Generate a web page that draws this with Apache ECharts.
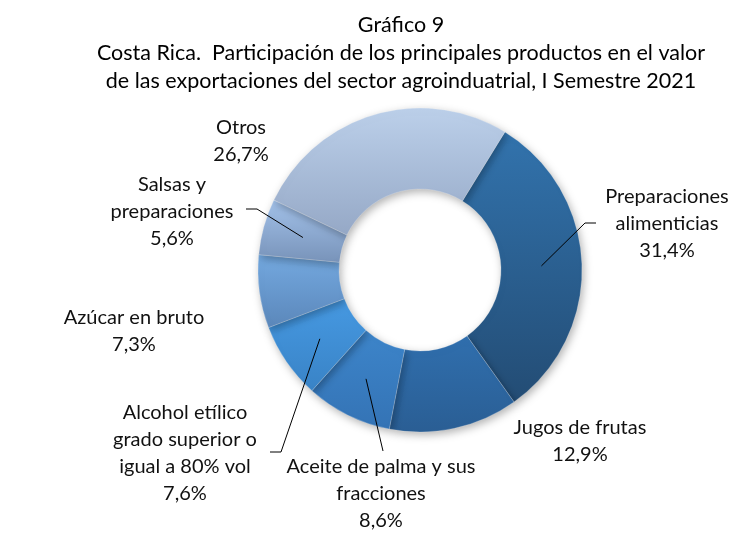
<!DOCTYPE html>
<html>
<head>
<meta charset="utf-8">
<script src="https://cdn.jsdelivr.net/npm/echarts@6/dist/echarts.min.js"></script>
<style>
  html, body { margin: 0; padding: 0; background: #fff; }
  #main { width: 737px; height: 533px; }
</style>
</head>
<body>
<div id="main"></div>
<script>
// categories (line breaks as shown in the chart)
var categories = [
    'Preparaciones\nalimenticias',
    'Jugos de frutas',
    'Aceite de palma y sus\nfracciones',
    'Alcohol etílico\ngrado superior o\nigual a 80% vol',
    'Azúcar en bruto',
    'Salsas y\npreparaciones',
    'Otros'
];
// participation, %
var shares = [31.4, 12.9, 8.6, 7.6, 7.3, 5.6, 26.7];

// slice colours: top -> bottom of each slice
var topColors = ['#3273ad', '#306fae', '#3d85ca', '#4699e2', '#74a9e0', '#a3c2ea', '#bcd0ea'];
var bottomColors = ['#234c74', '#2a5e94', '#3473b5', '#3983c6', '#5b87ba', '#7893b9', '#95a8c6'];

// label placement (block centre) and line elbow, hand placed like the original
var labelPos = [
    {x: 667, y: 224, line: [[585, 223], [596, 223]]},
    {x: 580, y: 441, line: null},
    {x: 381, y: 494, line: [[383, 451], [383, 451]]},
    {x: 185, y: 453, line: [[281, 452], [270, 452]]},
    {x: 134, y: 331, line: null},
    {x: 172, y: 212, line: [[257, 209], [246, 209]]},
    {x: 241, y: 141, line: null}
];

var center = [420, 270];
var radius = [81, 162];
var startAngle = 58.4;
var font = 'Lato';

/**middle of slice i, halfway across the ring*/
function midPoint(i) {
    var total = 0, before = 0;
    for (var k = 0; k < shares.length; k++) {
        total += shares[k];
        if (k < i) before += shares[k];
    }
    var a = (startAngle - (before + shares[i] / 2) / total * 360) * Math.PI / 180;
    var r = (radius[0] + radius[1]) / 2;
    return [center[0] + r * Math.cos(a), center[1] - r * Math.sin(a)];
}

var sliceData = categories.map(function (name, i) {
    return {
        name: name,
        value: shares[i],
        itemStyle: {
            color: {
                type: 'linear', x: 0, y: 0, x2: 0, y2: 1,
                colorStops: [
                    {offset: 0, color: topColors[i]},
                    {offset: 1, color: bottomColors[i]}
                ]
            }
        }
    };
});

// same slices again, invisible, only to carry labels and lines above the ring
var labelData = categories.map(function (name, i) {
    return {
        name: name,
        value: shares[i],
        labelLine: {show: labelPos[i].line != null}
    };
});

var chart = echarts.init(document.getElementById('main'));
chart.setOption({
    animation: false,
    title: {
        text: 'Gráfico 9\nCosta Rica.  Participación de los principales productos en el valor\nde las exportaciones del sector agroinduatrial, I Semestre 2021',
        left: 396,
        top: 6,
        textAlign: 'center',
        textStyle: {
            fontFamily: font,
            fontSize: 21.5,
            fontWeight: 'normal',
            lineHeight: 28,
            color: '#000'
        }
    },
    series: [{
        type: 'pie',
        z: 2,
        center: center,
        radius: radius,
        startAngle: startAngle,
        clockwise: true,
        data: sliceData,
        itemStyle: {
            borderColor: 'rgba(255,255,255,0.35)',
            borderWidth: 0.6,
            shadowBlur: 8,
            shadowOffsetX: 2,
            shadowOffsetY: 3,
            shadowColor: 'rgba(0,0,0,0.3)'
        },
        label: {show: false},
        labelLine: {show: false},
        emphasis: {disabled: true}
    }, {
        type: 'pie',
        z: 5,
        center: center,
        radius: radius,
        startAngle: startAngle,
        clockwise: true,
        avoidLabelOverlap: false,
        data: labelData,
        itemStyle: {color: 'rgba(0,0,0,0)'},
        label: {
            show: true,
            position: 'outside',
            fontFamily: font,
            fontSize: 20,
            lineHeight: 27,
            color: '#111',
            formatter: function (p) {
                return p.name + '\n' + p.value.toFixed(1).replace('.', ',') + '%';
            }
        },
        labelLine: {
            lineStyle: {color: '#000', width: 1}
        },
        labelLayout: function (params) {
            var i = params.dataIndex;
            var pos = labelPos[i];
            var out = {x: pos.x, y: pos.y, align: 'center', verticalAlign: 'middle'};
            if (pos.line) {
                out.labelLinePoints = [midPoint(i), pos.line[0], pos.line[1]];
            }
            return out;
        },
        emphasis: {disabled: true}
    }]
});
</script>
</body>
</html>
